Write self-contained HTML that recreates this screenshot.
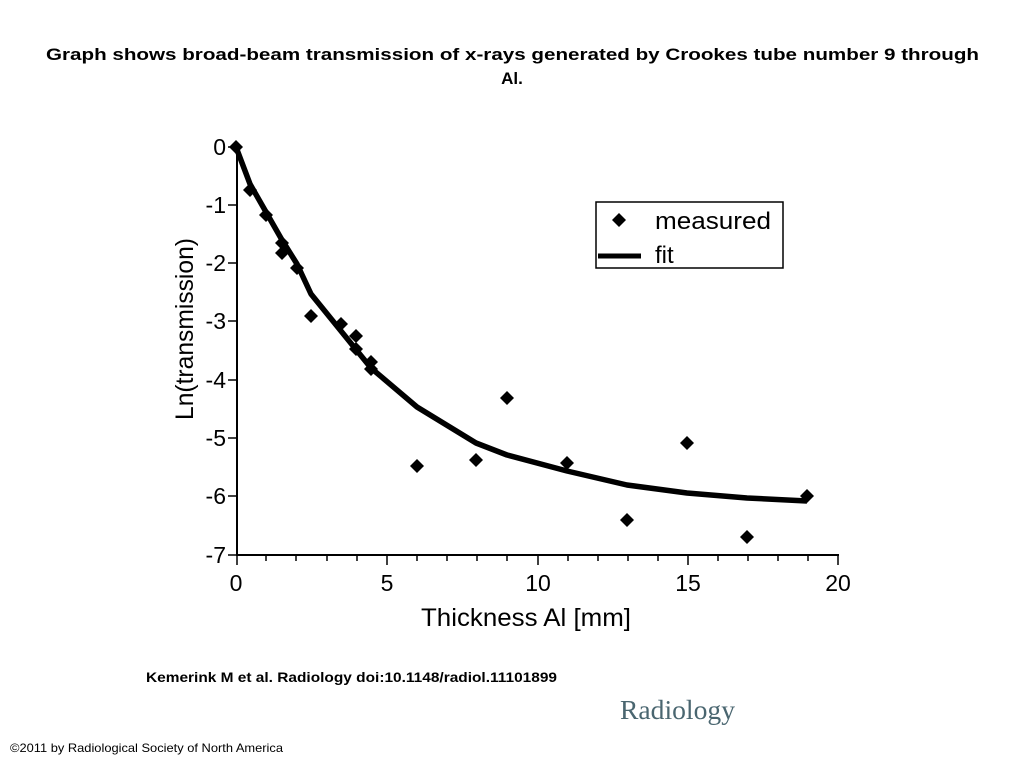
<!DOCTYPE html>
<html><head><meta charset="utf-8"><style>body{margin:0;background:#fff}</style></head>
<body>
<svg width="1024" height="768" xmlns="http://www.w3.org/2000/svg" font-family="Liberation Sans, sans-serif">
<rect width="1024" height="768" fill="#fff"/>
<text x="46" y="60" font-size="17" font-weight="bold" textLength="933" lengthAdjust="spacingAndGlyphs">Graph shows broad-beam transmission of x-rays generated by Crookes tube number 9 through</text>
<text x="512" y="84" font-size="17" font-weight="bold" text-anchor="middle">Al.</text>
<g stroke="#000" stroke-width="2" fill="none">
<line x1="237" y1="147" x2="237" y2="555"/>
<line x1="236" y1="555" x2="839" y2="555"/>
</g>
<g stroke="#000" stroke-width="1.5">
<line x1="228" y1="147" x2="237" y2="147"/><line x1="228" y1="205" x2="237" y2="205"/><line x1="228" y1="263" x2="237" y2="263"/><line x1="228" y1="321" x2="237" y2="321"/><line x1="228" y1="380" x2="237" y2="380"/><line x1="228" y1="438" x2="237" y2="438"/><line x1="228" y1="496" x2="237" y2="496"/><line x1="228" y1="555" x2="237" y2="555"/>
<line x1="237" y1="555" x2="237" y2="565"/><line x1="266" y1="555" x2="266" y2="561"/><line x1="296" y1="555" x2="296" y2="561"/><line x1="327" y1="555" x2="327" y2="561"/><line x1="357" y1="555" x2="357" y2="561"/><line x1="387" y1="555" x2="387" y2="565"/><line x1="417" y1="555" x2="417" y2="561"/><line x1="447" y1="555" x2="447" y2="561"/><line x1="477" y1="555" x2="477" y2="561"/><line x1="507" y1="555" x2="507" y2="561"/><line x1="538" y1="555" x2="538" y2="565"/><line x1="568" y1="555" x2="568" y2="561"/><line x1="598" y1="555" x2="598" y2="561"/><line x1="628" y1="555" x2="628" y2="561"/><line x1="658" y1="555" x2="658" y2="561"/><line x1="688" y1="555" x2="688" y2="565"/><line x1="718" y1="555" x2="718" y2="561"/><line x1="748" y1="555" x2="748" y2="561"/><line x1="778" y1="555" x2="778" y2="561"/><line x1="808" y1="555" x2="808" y2="561"/><line x1="838" y1="555" x2="838" y2="565"/>
</g>
<g font-size="23" text-anchor="end">
<text x="226" y="155">0</text><text x="226" y="213">-1</text><text x="226" y="271">-2</text><text x="226" y="329">-3</text><text x="226" y="388">-4</text><text x="226" y="446">-5</text><text x="226" y="504">-6</text><text x="226" y="563">-7</text>
</g>
<g font-size="23" text-anchor="middle">
<text x="236" y="591">0</text><text x="387" y="591">5</text><text x="538" y="591">10</text><text x="688" y="591">15</text><text x="838" y="591">20</text>
</g>
<text x="421" y="626" font-size="25" textLength="210" lengthAdjust="spacingAndGlyphs">Thickness Al [mm]</text>
<text transform="translate(193,420) rotate(-90)" font-size="25" textLength="182" lengthAdjust="spacingAndGlyphs">Ln(transmission)</text>
<polyline fill="none" stroke="#000" stroke-width="5.5" stroke-linejoin="round" points="236,147 250,184 266,212 282,240 297,264 311,294 341,331 371,368 417,407 476,443 507,455 567,471 627,485 687,493 747,498 807,501"/>
<g fill="#000">
<path d="M0,-7 L7,0 L0,7 L-7,0Z" transform="translate(236,147)"/>
<path d="M0,-7 L7,0 L0,7 L-7,0Z" transform="translate(250,190)"/>
<path d="M0,-7 L7,0 L0,7 L-7,0Z" transform="translate(266,215)"/>
<path d="M0,-7 L7,0 L0,7 L-7,0Z" transform="translate(282,243)"/>
<path d="M0,-7 L7,0 L0,7 L-7,0Z" transform="translate(282,253)"/>
<path d="M0,-7 L7,0 L0,7 L-7,0Z" transform="translate(297,268)"/>
<path d="M0,-7 L7,0 L0,7 L-7,0Z" transform="translate(311,316)"/>
<path d="M0,-7 L7,0 L0,7 L-7,0Z" transform="translate(341,324)"/>
<path d="M0,-7 L7,0 L0,7 L-7,0Z" transform="translate(356,336)"/>
<path d="M0,-7 L7,0 L0,7 L-7,0Z" transform="translate(356,349)"/>
<path d="M0,-7 L7,0 L0,7 L-7,0Z" transform="translate(371,362)"/>
<path d="M0,-7 L7,0 L0,7 L-7,0Z" transform="translate(371,369)"/>
<path d="M0,-7 L7,0 L0,7 L-7,0Z" transform="translate(417,466)"/>
<path d="M0,-7 L7,0 L0,7 L-7,0Z" transform="translate(476,460)"/>
<path d="M0,-7 L7,0 L0,7 L-7,0Z" transform="translate(507,398)"/>
<path d="M0,-7 L7,0 L0,7 L-7,0Z" transform="translate(567,463)"/>
<path d="M0,-7 L7,0 L0,7 L-7,0Z" transform="translate(627,520)"/>
<path d="M0,-7 L7,0 L0,7 L-7,0Z" transform="translate(687,443)"/>
<path d="M0,-7 L7,0 L0,7 L-7,0Z" transform="translate(747,537)"/>
<path d="M0,-7 L7,0 L0,7 L-7,0Z" transform="translate(807,496)"/>
<path d="M0,-7 L7,0 L0,7 L-7,0Z" transform="translate(619,220)"/>
</g>
<rect x="596" y="202" width="187" height="66" fill="none" stroke="#000" stroke-width="1.5"/>
<line x1="598" y1="256" x2="641" y2="256" stroke="#000" stroke-width="5"/>
<text x="655" y="229" font-size="24" textLength="116" lengthAdjust="spacingAndGlyphs">measured</text>
<text x="655" y="263" font-size="24">fit</text>
<text x="146" y="682" font-size="14" font-weight="bold" textLength="411" lengthAdjust="spacingAndGlyphs">Kemerink M et al. Radiology doi:10.1148/radiol.11101899</text>
<text x="620" y="719" font-size="27" font-family="Liberation Serif, serif" fill="#4a6670" textLength="115" lengthAdjust="spacingAndGlyphs">Radiology</text>
<text x="10" y="752" font-size="12" textLength="273" lengthAdjust="spacingAndGlyphs">©2011 by Radiological Society of North America</text>
</svg>
</body></html>
